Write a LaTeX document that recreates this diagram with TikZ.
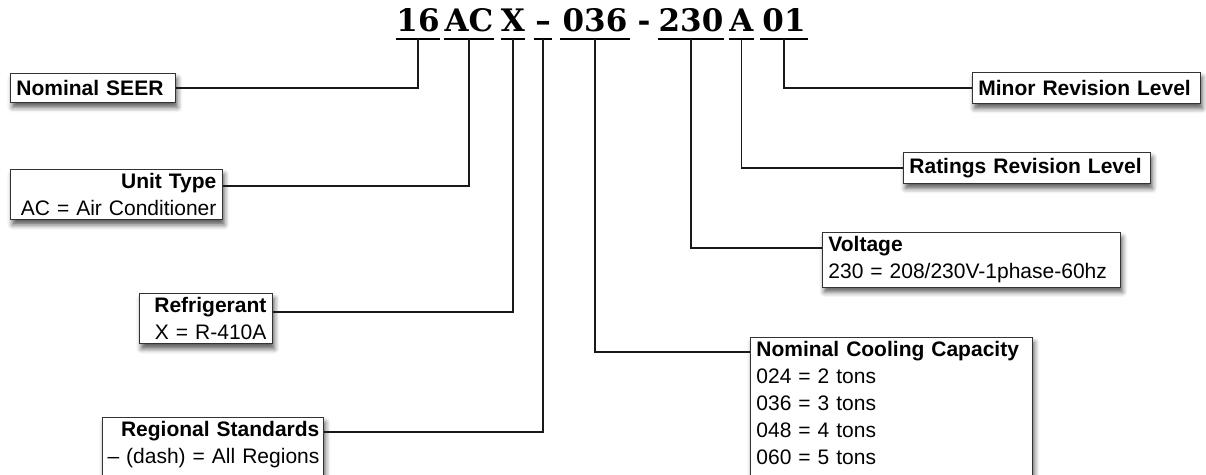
\documentclass[tikz,border=0pt]{standalone}
\usepackage{fontspec}
\setmainfont{Liberation Sans}
\newfontfamily\codefont{DejaVu Serif}
\usetikzlibrary{shadows.blur}

\tikzset{
  infobox/.style={draw=black!80, line width=0.8pt, fill=white, anchor=north west,
    inner xsep=6pt, inner ysep=4pt, font=\fontsize{21}{27}\selectfont,
    blur shadow={shadow xshift=2pt, shadow yshift=-5pt, shadow blur radius=5pt, shadow opacity=65}},
  code/.style={anchor=south, inner xsep=0pt, inner ysep=7pt, minimum width=#1,
    text height=23pt, text depth=0pt, font=\codefont\bfseries\fontsize{31}{31}\selectfont},
  link/.style={line width=1.6pt, black!90},
}

\begin{document}
\begin{tikzpicture}[x=1pt,y=-1pt]
  \useasboundingbox (0,0) rectangle (1206,474);
  \clip (0,0) rectangle (1206,474);
  % model number
  \node[code=40pt] (n16) at (418,39) {16};
  \node[code=48pt] (nAC) at (469,39) {AC};
  \node[code=24pt] (nX) at (513,39) {X};
  \node[code=18pt] (ndash) at (543,39) {–};
  \node[code=70pt] (n036) at (595,39) {036};
  \node[code=8pt] (nsep) at (644,39) {-};
  \node[code=66pt] (n230) at (691,39) {230};
  \node[code=21pt] (nA) at (741.5,39) {A};
  \node[code=48pt] (n01) at (784,39) {01};
  \foreach \n in {n16,nAC,nX,ndash,n036,n230,nA,n01}
    \draw[line width=1.6pt] (\n.south west) -- (\n.south east);

  % left side
  \node[infobox, text width=153pt, minimum height=29pt, font=\fontsize{21}{27}\selectfont\bfseries]
    (seer) at (10,73) {Nominal SEER};
  \node[infobox, text width=200pt, align=right] (unit) at (10,169)
    {{\bfseries Unit Type}\\AC = Air Conditioner};
  \node[infobox, text width=121pt, align=right] (refr) at (139,293)
    {{\bfseries Refrigerant}\\X = R-410A};
  \node[infobox, text width=213pt, inner xsep=4pt, align=right, text depth=60pt] (region) at (102,417)
    {{\bfseries Regional Standards}\\– (dash) = All Regions};

  % right side
  \node[infobox, text width=216pt, minimum height=31pt, font=\fontsize{21}{27}\selectfont\bfseries]
    (minor) at (972,72) {Minor Revision Level};
  \node[infobox, text width=235pt, minimum height=31pt, font=\fontsize{21}{27}\selectfont\bfseries]
    (ratings) at (903,152) {Ratings Revision Level};
  \node[infobox, text width=286pt, align=left] (volt) at (822,232)
    {{\bfseries Voltage}\\230 = 208/230V-1phase-60hz};
  \node[infobox, text width=270pt, align=left, text depth=160pt] (cool) at (750,337)
    {{\bfseries Nominal Cooling Capacity}\\024 = 2 tons\\036 = 3 tons\\048 = 4 tons\\060 = 5 tons};

  \draw[link] (n16.south) |- (seer.east);
  \draw[link] (nAC.south) |- ([yshift=-17pt]unit.north east);
  \draw[link] (nX.south) |- ([yshift=-19pt]refr.north east);
  \draw[link] (ndash.south) |- ([yshift=-15pt]region.north east);
  \draw[link] (n036.south) |- ([yshift=-15pt]cool.north west);
  \draw[link] (n230.south) |- ([yshift=-16pt]volt.north west);
  \draw[link] (nA.south) |- (ratings.west);
  \draw[link] (n01.south) |- (minor.west);
\end{tikzpicture}
\end{document}
